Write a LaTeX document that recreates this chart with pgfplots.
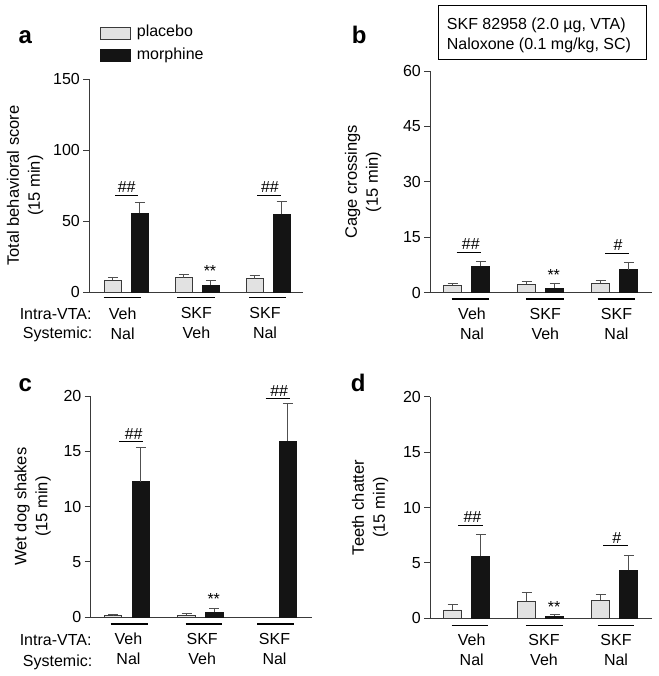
\documentclass[border=0pt]{standalone}
\usepackage{fontspec}
\setmainfont{Liberation Sans}
\usepackage{pgfplots}
\pgfplotsset{compat=1.18}
\definecolor{plc}{HTML}{E2E2E2}
\definecolor{mor}{HTML}{141414}
\definecolor{axc}{HTML}{3A3A3A}
\definecolor{erc}{HTML}{505050}
\tikzset{
  sig/.style={line width=1pt, black},
  ub/.style={line width=1.1pt, black},
  st/.style={font=\fontsize{16}{16}\selectfont, anchor=base, inner sep=0pt},
}
\pgfplotsset{
  panel/.style={
    scale only axis, anchor=south west,
    axis lines*=left,
    axis line style={axc, line width=1pt},
    ymin=0, clip=false,
    ytick align=outside,
    major tick length=6pt,
    tick style={axc, line width=1pt},
    xtick style={draw=none},
    ticklabel style={font=\fontsize{16}{19}\selectfont, text=black},
    /pgf/number format/assume math mode=true,
    yticklabel style={inner sep=0pt, xshift=-3pt},
    xticklabel style={align=center, font=\fontsize{16}{20}\selectfont, anchor=north, inner sep=0pt, yshift=-9.5pt},
    ylabel style={align=center, font=\fontsize{16.5}{21}\selectfont, anchor=center},
    ybar, bar shift=0pt, bar width=0.24,
  },
  pl/.style={fill=plc, draw=axc, line width=0.9pt,
    legend image code/.code={\draw[fill=plc, draw=axc, line width=0.9pt] (0pt,-7.2pt) rectangle (30pt,4.5pt);},
    error bars/.cd, y dir=plus, y explicit,
    error bar style={erc, line width=1pt},
    error mark options={erc, line width=1pt, mark size=5pt, rotate=90}},
  mo/.style={fill=mor, draw=mor, line width=0.9pt,
    legend image code/.code={\draw[fill=mor, draw=mor, line width=0.9pt] (0pt,-7.2pt) rectangle (30pt,4.5pt);},
    error bars/.cd, y dir=plus, y explicit,
    error bar style={erc, line width=1pt},
    error mark options={erc, line width=1pt, mark size=5pt, rotate=90}},
}
\begin{document}
\begin{tikzpicture}
\useasboundingbox (0,0) rectangle (658pt,-676pt);

% ---------- panel a ----------
\begin{axis}[panel, at={(89pt,-292pt)}, width=214.3pt, height=212.7pt,
  xmin=0.473, xmax=3.495, ymax=150, ytick={0,50,100,150},
  xtick={0.948,1.987,2.955},
  xticklabels={{Veh\\Nal},{SKF\\Veh},{SKF\\Nal}},
  ylabel={Total behavioral score\\(15 min)},
  ylabel style={at={(axis description cs:-0.2985,0.5)}},
  legend style={draw=none, fill=none, inner sep=0pt, outer sep=0pt,
    anchor=north west, at={(0.0513,1.254)}, row sep=8.2pt, column sep=6pt,
    nodes={inner sep=0pt}, font=\fontsize{16}{19}\selectfont},
  legend cell align=left]
\addplot[pl] coordinates {(0.81,8.3) +- (0,2.1) (1.81,10.1) +- (0,2.1) (2.81,9.4) +- (0,1.9)};
\addlegendentry{placebo}
\addplot[mo] coordinates {(1.19,55.5) +- (0,7.8) (2.19,4.9) +- (0,2.9) (3.19,54.8) +- (0,9.2)};
\addlegendentry{morphine}
\draw[sig] (axis cs:0.84,67.9) -- (axis cs:1.164,67.9);
\node[st] at (axis cs:1.004,70.0) {\#\#};
\draw[sig] (axis cs:2.849,67.9) -- (axis cs:3.18,67.9);
\node[st] at (axis cs:3.025,70.0) {\#\#};
\node[st] at (axis cs:2.179,10.9) {**};
\draw[ub] ([yshift=-5.7pt]axis cs:0.680,0) -- ([yshift=-5.7pt]axis cs:1.202,0);
\draw[ub] ([yshift=-5.7pt]axis cs:1.718,0) -- ([yshift=-5.7pt]axis cs:2.254,0);
\draw[ub] ([yshift=-5.7pt]axis cs:2.730,0) -- ([yshift=-5.7pt]axis cs:3.256,0);
\end{axis}

% ---------- panel b ----------
\begin{axis}[panel, at={(430pt,-292.6pt)}, width=221.7pt, height=221.6pt,
  xmin=0.504, xmax=3.5, ymax=60, ytick={0,15,30,45,60},
  xtick={1.072,2.062,3.024},
  xticklabels={{Veh\\Nal},{SKF\\Veh},{SKF\\Nal}},
  ylabel={Cage crossings\\(15 min)},
  ylabel style={at={(axis description cs:-0.3022,0.5)}}]
\addplot[pl] coordinates {(0.81,1.95) +- (0,0.55) (1.81,2.3) +- (0,0.7) (2.81,2.5) +- (0,0.7)};
\addplot[mo] coordinates {(1.19,7.1) +- (0,1.3) (2.19,1.2) +- (0,1.3) (3.19,6.2) +- (0,1.9)};
\draw[sig] (axis cs:0.865,10.9) -- (axis cs:1.193,10.9);
\node[st] at (axis cs:1.055,11.72) {\#\#};
\draw[sig] (axis cs:2.869,10.6) -- (axis cs:3.197,10.6);
\node[st] at (axis cs:3.045,11.53) {\#};
\node[st] at (axis cs:2.176,3.2) {**};
\draw[ub] ([yshift=-6.4pt]axis cs:0.797,0) -- ([yshift=-6.4pt]axis cs:1.303,0);
\draw[ub] ([yshift=-6.4pt]axis cs:1.801,0) -- ([yshift=-6.4pt]axis cs:2.315,0);
\draw[ub] ([yshift=-6.4pt]axis cs:2.770,0) -- ([yshift=-6.4pt]axis cs:3.274,0);
\end{axis}

% ---------- panel c ----------
\begin{axis}[panel, at={(90.5pt,-617.3pt)}, width=221.2pt, height=221.3pt,
  xmin=0.503, xmax=3.513, ymax=20, ytick={0,5,10,15,20},
  xtick={1.02,2.023,3.007},
  xticklabels={{Veh\\Nal},{SKF\\Veh},{SKF\\Nal}},
  ylabel={Wet dog shakes\\(15 min)},
  ylabel style={at={(axis description cs:-0.2622,0.5)}}]
\addplot[pl] coordinates {(0.81,0.15) +- (0,0.08) (1.81,0.18) +- (0,0.18)};
\addplot[mo] coordinates {(1.19,12.25) +- (0,3.1) (2.19,0.45) +- (0,0.36) (3.19,15.93) +- (0,3.4)};
\draw[sig] (axis cs:0.895,15.87) -- (axis cs:1.222,15.87);
\node[st] at (axis cs:1.091,16.1) {\#\#};
\draw[sig] (axis cs:2.887,19.78) -- (axis cs:3.218,19.78);
\node[st] at (axis cs:3.071,20.0) {\#\#};
\node[st] at (axis cs:2.18,1.13) {**};
\draw[ub] ([yshift=-6.7pt]axis cs:0.778,0) -- ([yshift=-6.7pt]axis cs:1.286,0);
\draw[ub] ([yshift=-6.7pt]axis cs:1.799,0) -- ([yshift=-6.7pt]axis cs:2.297,0);
\draw[ub] ([yshift=-6.7pt]axis cs:2.773,0) -- ([yshift=-6.7pt]axis cs:3.272,0);
\end{axis}

% ---------- panel d ----------
\begin{axis}[panel, at={(430pt,-618.3pt)}, width=221.7pt, height=221.6pt,
  xmin=0.504, xmax=3.5, ymax=20, ytick={0,5,10,15,20},
  xtick={1.068,2.045,3.018},
  xticklabels={{Veh\\Nal},{SKF\\Veh},{SKF\\Nal}},
  ylabel={Teeth chatter\\(15 min)},
  ylabel style={at={(axis description cs:-0.2706,0.5)}}]
\addplot[pl] coordinates {(0.81,0.75) +- (0,0.48) (1.81,1.56) +- (0,0.78) (2.81,1.65) +- (0,0.51)};
\addplot[mo] coordinates {(1.19,5.62) +- (0,1.92) (2.19,0.18) +- (0,0.15) (3.19,4.33) +- (0,1.35)};
\draw[sig] (axis cs:0.886,8.42) -- (axis cs:1.216,8.42);
\node[st] at (axis cs:1.078,8.63) {\#\#};
\draw[sig] (axis cs:2.846,6.58) -- (axis cs:3.176,6.58);
\node[st] at (axis cs:3.027,6.77) {\#};
\node[st] at (axis cs:2.18,0.55) {**};
\draw[ub] ([yshift=-7pt]axis cs:0.797,0) -- ([yshift=-7pt]axis cs:1.292,0);
\draw[ub] ([yshift=-7pt]axis cs:1.801,0) -- ([yshift=-7pt]axis cs:2.297,0);
\draw[ub] ([yshift=-7pt]axis cs:2.770,0) -- ([yshift=-7pt]axis cs:3.261,0);
\end{axis}

% ---------- text outside axes ----------
\begin{scope}[every node/.style={font=\fontsize{16}{19}\selectfont, inner sep=0pt}]
\node[anchor=base east] at (91.7pt,-319pt) {Intra-VTA:};
\node[anchor=base east] at (92.5pt,-338.5pt) {Systemic:};
\node[anchor=base east] at (91.7pt,-645.5pt) {Intra-VTA:};
\node[anchor=base east] at (92.5pt,-666.5pt) {Systemic:};
\draw[line width=1pt, black] (438.7pt,-6pt) rectangle (646pt,-59.3pt);
\node[anchor=base west] at (446.7pt,-30pt) {SKF 82958 (2.0 µg, VTA)};
\node[anchor=base west] at (446.7pt,-50pt) {Naloxone (0.1 mg/kg, SC)};
\end{scope}
\begin{scope}[every node/.style={font=\bfseries\fontsize{24}{24}\selectfont, inner sep=0pt, anchor=base west}]
\node at (18.3pt,-43.3pt) {a};
\node at (351.7pt,-44pt) {b};
\node at (18.3pt,-391pt) {c};
\node at (350.7pt,-391pt) {d};
\end{scope}
\end{tikzpicture}
\end{document}
